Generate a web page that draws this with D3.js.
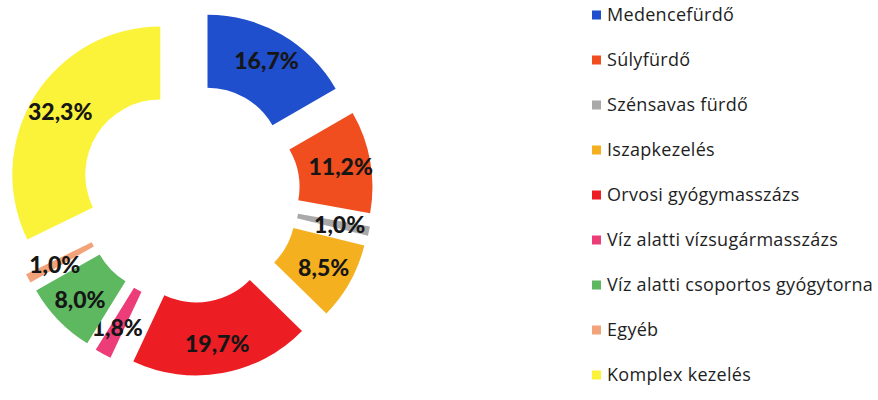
<!doctype html>
<html lang="hu">
  <head>
    <meta charset="utf-8">
    <title>Kezelések megoszlása</title>
    <style>
      body{margin:0;background:#fff;}
      .holder{width:878px;height:400px;}
    </style>
  </head>
  <body>
    <div class="holder"></div>
    <script src="https://cdn.jsdelivr.net/npm/d3@7"></script>
    <script>
      // categories, shares (%) and colours
      var categories = ["Medencefürdő", "Súlyfürdő", "Szénsavas fürdő", "Iszapkezelés",
                        "Orvosi gyógymasszázs", "Víz alatti vízsugármasszázs",
                        "Víz alatti csoportos gyógytorna", "Egyéb", "Komplex kezelés"];
      var values = [16.7, 11.2, 1.0, 8.5, 19.7, 1.8, 8.0, 1.0, 32.3];
      var colors = ["#1f4fcc", "#f04e1e", "#a9a9a9", "#f5b020", "#ec1e24",
                    "#ec3d78", "#5db85f", "#f2a37a", "#fbf23a"];

      var width = 878, height = 400,
          cx = 190, cy = 193,
          outer = 148, inner = 75,
          explode = 35;

      var svg = d3.select(".holder")
          .append("svg")
          .attr("width", width)
          .attr("height", height);

      var data = categories.map(function(c, i){ return {name: c, value: values[i], color: colors[i]}; });

      var pie = d3.pie()
          .sort(null)
          .value(function(d){ return d.value; });

      var arc = d3.arc().innerRadius(inner).outerRadius(outer);
      var labelArc = d3.arc().innerRadius(118).outerRadius(118);

      var arcs = pie(data);

      //push every slice out along its middle angle
      function shift(d){
        var a = (d.startAngle + d.endAngle) / 2;
        return [cx + explode * Math.sin(a), cy - explode * Math.cos(a)];
      }

      var slices = svg.append("g").selectAll("g")
          .data(arcs)
          .enter().append("g")
          .attr("transform", function(d){ var p = shift(d); return "translate(" + p[0] + "," + p[1] + ")"; });

      slices.append("path")
          .attr("d", arc)
          .style("fill", function(d){ return d.data.color; });

      slices.append("text")
          .attr("transform", function(d){ return "translate(" + labelArc.centroid(d) + ")"; })
          .attr("text-anchor", "middle")
          .attr("dy", "0.36em")
          .text(function(d){ return d.data.value.toFixed(1).replace(".", ",") + "%"; })
          .style("fill", "#161616")
          .style("font-family", "Lato, 'Open Sans', sans-serif")
          .style("font-weight", "900")
          .style("font-size", "23px");

      // legend
      var ly = d3.scalePoint().domain(categories).range([15, 375]);

      var legend = svg.append("g").selectAll("g")
          .data(data)
          .enter().append("g")
          .attr("transform", function(d){ return "translate(592," + ly(d.name) + ")"; });

      legend.append("rect")
          .attr("x", 0)
          .attr("y", -4.5)
          .attr("width", 9)
          .attr("height", 9)
          .style("fill", function(d){ return d.color; });

      legend.append("text")
          .attr("x", 15)
          .attr("dy", "0.35em")
          .text(function(d){ return d.name; })
          .style("fill", "#1e1e1e")
          .style("font-family", "'Open Sans', sans-serif")
          .style("font-size", "18px")
          .style("letter-spacing", "0.3px");
    </script>
  </body>
</html>
